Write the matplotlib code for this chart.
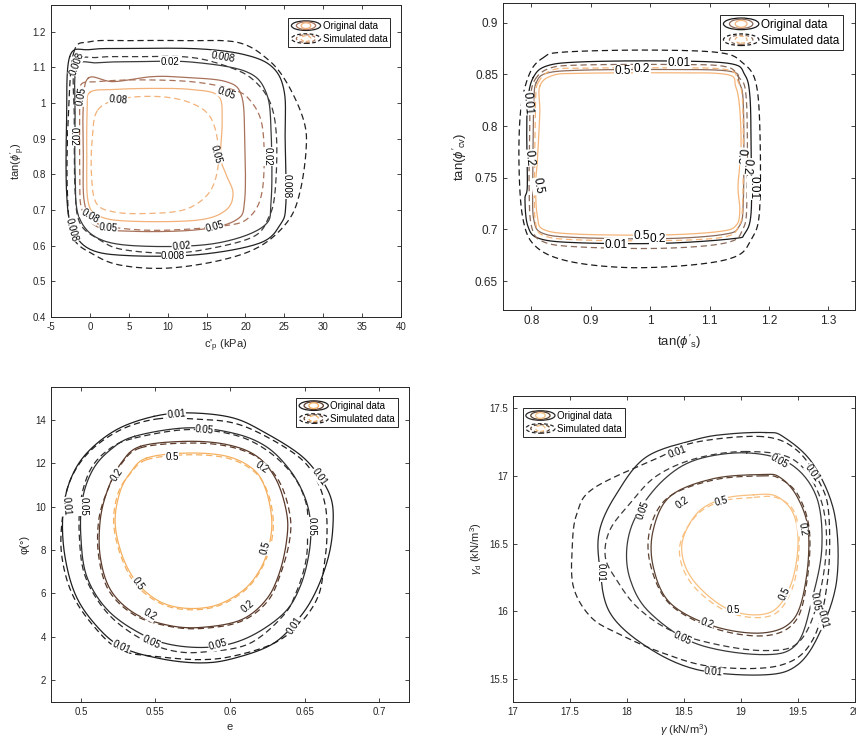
import numpy as np
import matplotlib
matplotlib.use("Agg")
import matplotlib.pyplot as plt
from matplotlib.lines import Line2D
from matplotlib.patches import Ellipse
from matplotlib.legend_handler import HandlerBase
from matplotlib.ticker import FormatStrFormatter

plt.rcParams['font.family'] = ['Liberation Sans', 'DejaVu Sans']
plt.rcParams['mathtext.fontset'] = 'custom'
plt.rcParams['mathtext.rm'] = 'Liberation Sans'
plt.rcParams['mathtext.it'] = 'Liberation Sans:italic'

# ---------------- panel 1: c'p vs tan(phi'p) ----------------
p1_levels = [0.008, 0.02, 0.05, 0.08]
p1_colors = ['#222222', '#3a3a3a', '#a8725a', '#f2b27a']
p1_orig = {
    0.008: ([-2.6, 0, 5, 14, 20, 23.5, 25, 25.1, 25.2, 24.5, 21.8, 14, 5, 0, -2.3, -3, -3],
            [1.13, 1.15, 1.153, 1.152, 1.135, 1.10, 1.03, 0.90, 0.72, 0.66, 0.607, 0.575, 0.572, 0.59, 0.65, 0.75, 0.95]),
    0.02: ([-1.7, 1, 6, 13, 20.1, 22.7, 23.3, 23.3, 22.3, 16.3, 7.7, 1.5, -1.4, -1.9, -1.9],
           [1.10, 1.113, 1.116, 1.115, 1.088, 1.027, 0.915, 0.728, 0.654, 0.607, 0.598, 0.616, 0.68, 0.80, 0.95]),
    0.05: ([-0.2, 3, 8, 12, 17.5, 19.5, 19.9, 19.9, 18.8, 14, 6, 0.86, -0.7, -0.85, -0.85],
           [1.07, 1.06, 1.074, 1.072, 1.06, 1.02, 0.90, 0.728, 0.672, 0.645, 0.64, 0.654, 0.72, 0.85, 0.99]),
    0.08: ([0, 3, 8, 13, 16.5, 17, 16.8, 17.5, 18.4, 17.5, 14, 6, 1.5, -0.2, -0.4, -0.35],
           [1.03, 1.038, 1.041, 1.038, 1.02, 0.95, 0.85, 0.80, 0.747, 0.70, 0.672, 0.668, 0.68, 0.72, 0.85, 0.98]),
}
p1_sim = {
    0.008: ([-2.1, 0, 5, 12, 19, 23, 25.5, 27.5, 27.8, 27, 25.5, 22, 17, 10, 4, 0.5, -2.2, -2.9, -2.8],
            [1.14, 1.172, 1.175, 1.175, 1.17, 1.12, 1.05, 0.95, 0.87, 0.75, 0.67, 0.60, 0.56, 0.537, 0.545, 0.575, 0.625, 0.75, 0.95]),
    0.02: ([-1.9, 1, 6, 13, 18, 21, 23.2, 24, 23.8, 23, 21, 15, 9.8, 4, 1.3, -1.2, -1.9, -2.0],
           [1.11, 1.128, 1.13, 1.128, 1.10, 1.065, 1.0, 0.90, 0.75, 0.68, 0.625, 0.59, 0.579, 0.59, 0.616, 0.66, 0.75, 0.95]),
    0.05: ([-1.2, 1, 6, 13, 18, 20.5, 22.2, 22.2, 20.5, 17, 8, 1.2, -1.0, -1.3, -1.3],
           [1.05, 1.06, 1.065, 1.06, 1.04, 1.01, 0.93, 0.76, 0.68, 0.655, 0.643, 0.66, 0.70, 0.80, 0.98]),
    0.08: ([1, 4, 9, 13, 15.5, 16.5, 16.3, 15, 12, 7, 3, 0.8, 0.2, 0.3],
           [0.98, 1.012, 1.018, 1.0, 0.96, 0.88, 0.80, 0.74, 0.70, 0.69, 0.695, 0.72, 0.80, 0.90]),
}
p1_labels = [
    ('0.008', 17.1, 1.128, -10), ('0.02', 10.27, 1.116, 0), ('0.008', -1.71, 1.111, 70),
    ('0.05', -1.07, 1.018, 80), ('0.08', 3.64, 1.009, -5), ('0.05', 17.54, 1.027, -20),
    ('0.02', -2.13, 0.906, -90), ('0.05', 16.26, 0.855, -75), ('0.02', 22.89, 0.850, -90),
    ('0.008', 25.24, 0.766, -90), ('0.08', 0.0, 0.682, -30), ('0.05', 2.36, 0.649, -5),
    ('0.008', -2.35, 0.644, -75), ('0.05', 16.04, 0.654, 15), ('0.02', 11.77, 0.598, 5),
    ('0.008', 10.7, 0.570, 0),
]

# ---------------- panel 2: tan(phi's) vs tan(phi'cv) ----------------
p2_levels = [0.01, 0.2, 0.5]
p2_colors = ['#1a1a1a', '#8a6a5a', '#f5b57a']
p2_orig = {
    0.01: ([0.803, 0.825, 0.881, 1.021, 1.134, 1.159, 1.168, 1.170, 1.170, 1.159, 1.139, 1.021, 0.881, 0.814, 0.794, 0.789, 0.793, 0.792, 0.794],
           [0.847, 0.858, 0.862, 0.863, 0.8605, 0.850, 0.829, 0.777, 0.716, 0.696, 0.691, 0.6865, 0.687, 0.691, 0.703, 0.729, 0.742, 0.793, 0.826]),
    0.2: ([0.808, 0.825, 0.881, 1.021, 1.134, 1.150, 1.157, 1.157, 1.150, 1.122, 1.021, 0.881, 0.820, 0.804, 0.802, 0.803, 0.804],
          [0.842, 0.851, 0.854, 0.8547, 0.853, 0.842, 0.819, 0.729, 0.703, 0.695, 0.691, 0.692, 0.696, 0.709, 0.742, 0.793, 0.826]),
    0.5: ([0.814, 0.836, 0.881, 1.021, 1.128, 1.144, 1.151, 1.153, 1.148, 1.151, 1.145, 1.117, 1.021, 0.881, 0.822, 0.810, 0.807, 0.810, 0.814],
          [0.8385, 0.849, 0.851, 0.8515, 0.850, 0.8385, 0.816, 0.777, 0.742, 0.719, 0.704, 0.698, 0.6946, 0.6953, 0.6995, 0.712, 0.742, 0.767, 0.8127]),
}
p2_sim = {
    0.01: ([0.8196, 0.853, 0.993, 1.117, 1.156, 1.178, 1.185, 1.184, 1.170, 1.145, 1.077, 0.965, 0.864, 0.808, 0.786, 0.779, 0.782, 0.797],
           [0.866, 0.8715, 0.8735, 0.871, 0.861, 0.842, 0.793, 0.716, 0.690, 0.674, 0.666, 0.663, 0.669, 0.683, 0.709, 0.761, 0.816, 0.851]),
    0.2: ([0.806, 0.831, 0.881, 1.021, 1.122, 1.148, 1.162, 1.163, 1.156, 1.128, 1.021, 0.881, 0.820, 0.800, 0.796, 0.797, 0.798],
          [0.845, 0.856, 0.859, 0.8596, 0.858, 0.848, 0.826, 0.729, 0.700, 0.687, 0.6817, 0.683, 0.688, 0.703, 0.742, 0.793, 0.826]),
    0.5: ([0.811, 0.834, 0.881, 1.021, 1.128, 1.148, 1.156, 1.156, 1.149, 1.122, 1.021, 0.881, 0.822, 0.807, 0.805, 0.806, 0.807],
          [0.8418, 0.854, 0.856, 0.8563, 0.8547, 0.843, 0.819, 0.7286, 0.7027, 0.6924, 0.6891, 0.6898, 0.6937, 0.706, 0.7415, 0.7933, 0.8256]),
}
p2_labels = [
    ('0.01', 1.049, 0.861, 0), ('0.5', 0.953, 0.853, 0), ('0.2', 0.986, 0.855, 0),
    ('0.01', 0.793, 0.822, -85), ('0.2', 0.797, 0.769, -85), ('0.5', 0.811, 0.742, -80),
    ('0.5', 1.152, 0.771, -95), ('0.2', 1.163, 0.761, -95), ('0.01', 1.174, 0.740, -90),
    ('0.5', 0.985, 0.694, 0), ('0.2', 1.012, 0.691, 0), ('0.01', 0.942, 0.685, 0),
]

# ---------------- panel 3: e vs phi ----------------
p3_levels = [0.01, 0.05, 0.2, 0.5]
p3_colors = ['#1e1e1e', '#2e2e2e', '#5a3a2a', '#f5b060']
p3_orig = {
    0.01: ([0.549, 0.573, 0.602, 0.624, 0.647, 0.660, 0.668, 0.669, 0.666, 0.658, 0.647, 0.629, 0.602, 0.580, 0.553, 0.527, 0.509, 0.496, 0.489, 0.488, 0.493, 0.504, 0.524],
           [14.15, 14.31, 14.08, 13.38, 12.38, 11.38, 10.31, 9.08, 7.69, 6.15, 4.92, 3.69, 3.0, 2.8, 3.0, 3.54, 4.62, 6.0, 7.85, 9.69, 11.23, 12.46, 13.54]),
    0.05: ([0.536, 0.571, 0.602, 0.624, 0.640, 0.650, 0.654, 0.653, 0.647, 0.636, 0.613, 0.589, 0.562, 0.540, 0.518, 0.504, 0.500, 0.501, 0.508, 0.520],
           [13.23, 13.62, 13.38, 12.77, 11.69, 10.46, 9.23, 7.85, 6.31, 5.08, 4.0, 3.54, 3.62, 4.15, 5.23, 6.77, 8.62, 10.31, 11.69, 12.62]),
    0.2: ([0.540, 0.571, 0.598, 0.618, 0.631, 0.638, 0.638, 0.633, 0.624, 0.607, 0.580, 0.558, 0.536, 0.520, 0.513, 0.513, 0.518, 0.527],
          [12.77, 13.0, 12.85, 12.31, 11.23, 9.69, 8.46, 6.92, 5.69, 4.77, 4.43, 4.54, 5.08, 6.15, 7.69, 9.38, 10.77, 12.0]),
    0.5: ([0.544, 0.571, 0.598, 0.616, 0.624, 0.628, 0.626, 0.620, 0.609, 0.591, 0.571, 0.553, 0.538, 0.528, 0.523, 0.526, 0.533],
          [12.23, 12.46, 12.31, 11.69, 10.77, 9.38, 8.15, 7.08, 6.15, 5.46, 5.31, 5.62, 6.46, 7.69, 9.23, 10.62, 11.54]),
}
p3_sim = {
    0.01: ([0.551, 0.576, 0.602, 0.624, 0.647, 0.658, 0.664, 0.665, 0.663, 0.659, 0.647, 0.629, 0.602, 0.580, 0.553, 0.527, 0.509, 0.494, 0.487, 0.488, 0.493, 0.506, 0.527],
           [14.03, 14.03, 13.85, 13.23, 12.23, 11.23, 10.0, 8.62, 7.23, 5.85, 4.62, 3.69, 3.11, 2.95, 3.08, 3.38, 4.46, 6.0, 7.85, 9.69, 11.23, 12.54, 13.54]),
    0.05: ([0.536, 0.571, 0.602, 0.624, 0.642, 0.651, 0.652, 0.651, 0.645, 0.636, 0.613, 0.584, 0.562, 0.540, 0.518, 0.503, 0.499, 0.500, 0.507, 0.520],
           [13.15, 13.54, 13.31, 12.62, 11.46, 10.15, 8.92, 7.54, 6.15, 5.0, 3.69, 3.31, 3.35, 3.92, 5.08, 6.77, 8.62, 10.31, 11.77, 12.69]),
    0.2: ([0.540, 0.571, 0.598, 0.619, 0.633, 0.640, 0.640, 0.634, 0.625, 0.607, 0.580, 0.558, 0.536, 0.519, 0.512, 0.512, 0.518, 0.527],
          [12.7, 12.92, 12.78, 12.23, 11.15, 9.69, 8.46, 6.92, 5.62, 4.7, 4.38, 4.5, 5.0, 6.1, 7.69, 9.38, 10.77, 11.95]),
    0.5: ([0.544, 0.571, 0.598, 0.616, 0.625, 0.629, 0.627, 0.620, 0.609, 0.591, 0.571, 0.553, 0.537, 0.527, 0.522, 0.525, 0.533],
          [12.15, 12.38, 12.23, 11.62, 10.7, 9.38, 8.15, 7.0, 6.08, 5.4, 5.25, 5.55, 6.4, 7.69, 9.23, 10.62, 11.5]),
}
p3_labels = [
    ('0.01', 0.564, 14.23, 5), ('0.05', 0.583, 13.51, -5), ('0.5', 0.561, 12.28, 0),
    ('0.2', 0.621, 11.82, -35), ('0.2', 0.524, 11.46, 55), ('0.01', 0.660, 11.38, -55),
    ('0.01', 0.490, 10.0, -85), ('0.05', 0.502, 10.0, -90), ('0.05', 0.655, 9.08, -90),
    ('0.5', 0.624, 8.08, 75), ('0.5', 0.538, 6.46, -55), ('0.2', 0.612, 5.42, 40),
    ('0.2', 0.546, 5.0, -30), ('0.05', 0.547, 3.77, -25), ('0.05', 0.592, 3.62, 15),
    ('0.01', 0.527, 3.54, -25), ('0.01', 0.643, 4.54, 55),
]

# ---------------- panel 4: gamma vs gamma_d ----------------
p4_levels = [0.01, 0.05, 0.2, 0.5]
p4_colors = ['#2a2a2a', '#3a3a3a', '#5a4030', '#f8c080']
p4_orig = {
    0.01: ([19.22, 18.90, 18.61, 18.17, 17.91, 17.76, 17.76, 17.85, 18.17, 18.61, 19.19, 19.49, 19.69, 19.84, 19.82, 19.63, 19.37],
           [17.32, 17.31, 17.27, 17.14, 16.87, 16.60, 16.33, 15.99, 15.74, 15.57, 15.53, 15.60, 15.84, 16.23, 16.72, 17.09, 17.29]),
    0.05: ([19.05, 18.61, 18.32, 18.09, 18.0, 18.03, 18.20, 18.61, 19.19, 19.49, 19.63, 19.71, 19.66, 19.43],
           [17.17, 17.12, 16.97, 16.72, 16.48, 16.23, 15.99, 15.76, 15.68, 15.76, 16.11, 16.48, 16.85, 17.09]),
    0.2: ([19.19, 18.76, 18.38, 18.23, 18.23, 18.38, 18.76, 19.19, 19.46, 19.57, 19.59, 19.49, 19.34],
          [17.01, 16.98, 16.85, 16.60, 16.33, 16.06, 15.89, 15.84, 15.94, 16.23, 16.60, 16.85, 16.99]),
    0.5: ([19.11, 18.84, 18.61, 18.48, 18.58, 18.90, 19.25, 19.43, 19.50, 19.46, 19.31],
          [16.86, 16.83, 16.72, 16.48, 16.23, 16.01, 15.99, 16.18, 16.48, 16.72, 16.85]),
}
p4_sim = {
    0.01: ([19.19, 18.61, 18.29, 17.71, 17.56, 17.52, 17.53, 17.68, 17.91, 18.32, 18.76, 19.34, 19.63, 19.76, 19.77, 19.69, 19.49],
           [17.29, 17.25, 17.14, 16.91, 16.72, 16.48, 16.18, 15.96, 15.84, 15.69, 15.59, 15.60, 15.79, 16.23, 16.72, 16.95, 17.19]),
    0.05: ([19.05, 18.61, 18.26, 18.03, 17.85, 17.81, 17.91, 18.09, 18.38, 18.76, 19.19, 19.49, 19.66, 19.75, 19.69, 19.46],
           [17.18, 17.13, 17.0, 16.80, 16.60, 16.40, 16.23, 16.03, 15.86, 15.76, 15.71, 15.76, 16.03, 16.48, 16.85, 17.12]),
    0.2: ([19.19, 18.76, 18.36, 18.20, 18.21, 18.38, 18.78, 19.22, 19.48, 19.58, 19.60, 19.50, 19.34],
          [17.0, 16.97, 16.84, 16.60, 16.33, 16.05, 15.87, 15.82, 15.93, 16.23, 16.60, 16.86, 16.98]),
    0.5: ([19.10, 18.82, 18.60, 18.46, 18.57, 18.90, 19.27, 19.45, 19.51, 19.47, 19.31],
          [16.84, 16.81, 16.70, 16.46, 16.20, 15.99, 15.97, 16.17, 16.48, 16.73, 16.84]),
}
p4_labels = [
    ('0.01', 18.44, 17.18, 20), ('0.05', 19.34, 17.11, -30), ('0.01', 19.63, 17.02, -55),
    ('0.05', 18.14, 16.75, 70), ('0.2', 18.49, 16.80, 35), ('0.5', 18.83, 16.81, 15),
    ('0.2', 19.54, 16.61, -80), ('0.01', 17.77, 16.29, -90), ('0.5', 19.38, 16.13, 65),
    ('0.5', 18.93, 16.01, 0), ('0.2', 18.70, 15.91, -20), ('0.05', 18.49, 15.80, -25),
    ('0.05', 19.65, 16.07, -80), ('0.01', 19.72, 15.94, -75), ('0.01', 18.76, 15.55, -5),
]


def smooth_closed(xs, ys, n=16):
    # closed Catmull-Rom curve through the read-off points
    P = np.column_stack([xs, ys]).astype(float)
    k = len(P)
    t = np.linspace(0, 1, n, endpoint=False)[:, None]
    segs = []
    for i in range(k):
        p0, p1, p2, p3 = P[i - 1], P[i], P[(i + 1) % k], P[(i + 2) % k]
        segs.append(0.5 * (2 * p1 + (-p0 + p2) * t + (2 * p0 - 5 * p1 + 4 * p2 - p3) * t ** 2
                           + (-p0 + 3 * p1 - 3 * p2 + p3) * t ** 3))
    out = np.vstack(segs)
    out = np.vstack([out, out[:1]])
    return out[:, 0], out[:, 1]


class ContourIcon(HandlerBase):
    def __init__(self, ls, colors):
        super().__init__()
        self.ls = ls
        self.colors = colors

    def create_artists(self, legend, orig_handle, xdescent, ydescent, width, height, fontsize, trans):
        cx = width / 2 - xdescent
        cy = height / 2 - ydescent
        arts = []
        for f, c in zip([1.0, 0.66, 0.33], self.colors):
            arts.append(Ellipse((cx, cy), width * f, height * 1.1 * (0.4 + 0.6 * f), fill=False,
                                edgecolor=c, lw=0.9, ls=self.ls, transform=trans))
        return arts


dash = (0, (5, 3))

fig = plt.figure(figsize=(8.56, 7.42), dpi=100)

panels = [
    dict(pos=[0.0596, 0.5728, 0.4089, 0.4205], levels=p1_levels, colors=p1_colors, orig=p1_orig, sim=p1_sim,
         labels=p1_labels, xlim=(-5, 40), ylim=(0.4, 1.275), xt=np.arange(-5, 41, 5), yt=np.arange(0.4, 1.21, 0.1),
         xlabel=r"c$'_{\rm p}$ (kPa)", ylabel=r"tan($\phi'_{\rm p}$)", fs=7, lfs=7,
         leg=dict(loc='upper right', bbox_to_anchor=(0.969, 0.958))),
    dict(pos=[0.5876, 0.5822, 0.4112, 0.4137], levels=p2_levels, colors=p2_colors, orig=p2_orig, sim=p2_sim,
         labels=p2_labels, xlim=(0.752, 1.345), ylim=(0.622, 0.919), xt=np.arange(0.8, 1.31, 0.1), yt=np.arange(0.65, 0.91, 0.05),
         xlabel=r"tan($\phi'_{\rm s}$)", ylabel=r"tan($\phi'_{\rm cv}$)", fs=8.5, lfs=8.5,
         leg=dict(loc='upper right', bbox_to_anchor=(0.966, 0.961))),
    dict(pos=[0.0596, 0.0539, 0.4182, 0.4245], levels=p3_levels, colors=p3_colors, orig=p3_orig, sim=p3_sim,
         labels=p3_labels, xlim=(0.48, 0.72), ylim=(1, 15.5), xt=np.arange(0.5, 0.71, 0.05), yt=np.arange(2, 15, 2),
         xlabel="e", ylabel="φ(°)", fs=7, lfs=7,
         leg=dict(loc='upper right', bbox_to_anchor=(0.969, 0.965))),
    dict(pos=[0.5993, 0.0539, 0.3995, 0.4124], levels=p4_levels, colors=p4_colors, orig=p4_orig, sim=p4_sim,
         labels=p4_labels, xlim=(17, 20), ylim=(15.33, 17.59), xt=np.arange(17, 20.1, 0.5), yt=np.arange(15.5, 17.6, 0.5),
         xlabel=r"$\gamma$ (kN/m$^3$)", ylabel=r"$\gamma_{\rm d}$ (kN/m$^3$)", fs=7, lfs=7,
         leg=dict(loc='upper left', bbox_to_anchor=(0.029, 0.961))),
]

for p in panels:
    ax = fig.add_axes(p['pos'])
    for lev, col in zip(p['levels'], p['colors']):
        x, y = smooth_closed(*p['orig'][lev])
        ax.plot(x, y, color=col, lw=0.9, zorder=2)
        x, y = smooth_closed(*p['sim'][lev])
        ax.plot(x, y, color=col, lw=0.9, ls=dash, zorder=2)
    for txt, x, y, rot in p['labels']:
        ax.text(x, y, txt, fontsize=p['lfs'], rotation=rot, ha='center', va='center',
                rotation_mode='anchor', color='black', zorder=3,
                bbox=dict(facecolor='white', edgecolor='none', pad=0.3))
    ax.set_xlim(*p['xlim'])
    ax.set_ylim(*p['ylim'])
    ax.set_xticks(p['xt'])
    ax.set_yticks(p['yt'])
    ax.xaxis.set_major_formatter(FormatStrFormatter('%g'))
    ax.yaxis.set_major_formatter(FormatStrFormatter('%g'))
    ax.tick_params(direction='in', top=True, right=True, length=3, width=0.6,
                   labelsize=p['fs'], colors='#262626')
    for s in ax.spines.values():
        s.set_color('#262626')
        s.set_linewidth(0.7)
    ax.set_xlabel(p['xlabel'], fontsize=p['fs'] + 1, color='#262626')
    ax.set_ylabel(p['ylabel'], fontsize=p['fs'] + 1, color='#262626')

    h1 = Line2D([], [], color='k')
    h2 = Line2D([], [], color='k', ls='--')
    icon_cols = [p['colors'][0], p['colors'][-2], p['colors'][-1]]
    leg = ax.legend([h1, h2], ['Original data', 'Simulated data'],
                    handler_map={h1: ContourIcon('-', icon_cols), h2: ContourIcon((0, (3, 2)), icon_cols)},
                    fontsize=p['fs'], frameon=True, fancybox=False, framealpha=1, edgecolor='#262626',
                    borderaxespad=0, borderpad=0.3, handlelength=3.0, handleheight=1.0,
                    handletextpad=0.2, labelspacing=0.3, **p['leg'])
    leg.get_frame().set_linewidth(0.7)

fig.savefig('out.png', dpi=100)
